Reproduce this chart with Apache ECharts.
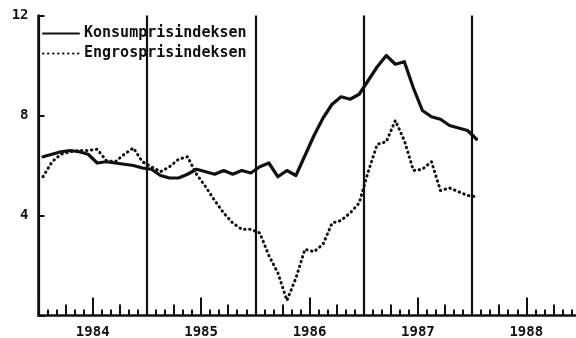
<!DOCTYPE html>
<html>
<head>
<meta charset="utf-8">
<script src="https://cdn.jsdelivr.net/npm/echarts@6/dist/echarts.min.js"></script>
<style>
  html, body { margin: 0; padding: 0; background: #fff; }
  #chart { width: 576px; height: 338px; }
</style>
</head>
<body>
<div id="chart"></div>
<script>
// Monthly year-over-year change (%), January 1984 to January 1988
const years = ['1984', '1985', '1986', '1987', '1988'];
const yTicks = [4, 8, 12];
const kpi = [
  6.35, 6.45, 6.55, 6.6, 6.55, 6.45, 6.1, 6.15, 6.1, 6.05, 6.0, 5.9,
  5.85, 5.6, 5.5, 5.5, 5.65, 5.85, 5.75, 5.65, 5.8, 5.65, 5.8, 5.7,
  5.95, 6.1, 5.55, 5.8, 5.6, 6.4, 7.2, 7.9, 8.45, 8.75, 8.65, 8.85,
  9.4, 9.95, 10.4, 10.05, 10.15, 9.1, 8.2, 7.95, 7.85, 7.6, 7.5, 7.4,
  7.05
];
const engros = [
  5.55, 6.15, 6.45, 6.55, 6.6, 6.6, 6.65, 6.2, 6.15, 6.45, 6.7, 6.15,
  5.95, 5.75, 5.95, 6.25, 6.35, 5.65, 5.15, 4.6, 4.1, 3.7, 3.45, 3.45,
  3.3, 2.4, 1.7, 0.6, 1.5, 2.65, 2.55, 2.85, 3.7, 3.8, 4.1, 4.5,
  5.75, 6.85, 6.95, 7.8, 7.0, 5.8, 5.85, 6.15, 5.0, 5.1, 4.95, 4.8,
  4.75
];

const FONT = 'DejaVu Sans Mono';
const INK = '#111';

// each monthly value sits at the middle of its month on a 0..60 month scale
const toPoints = arr => arr.map((v, i) => [i + 0.5, v]);

// tick-only axes sharing the month scale (quarter and half-year marks)
function tickAxis(interval, length, extra) {
  return Object.assign({
    type: 'value', min: 0, max: 60, interval: interval,
    position: 'bottom', offset: 0,
    axisLine: { show: false },
    axisTick: { show: true, inside: true, length: length, lineStyle: { color: INK, width: 2 } },
    axisLabel: { show: false },
    splitLine: { show: false }
  }, extra || {});
}

const chart = echarts.init(document.getElementById('chart'), null, { renderer: 'canvas' });
chart.setOption({
  backgroundColor: '#fff',
  animation: false,
  // the 1988 panel runs slightly past the right edge of the page
  grid: {
    left: 38.5, width: 542, top: 15.5, bottom: 22.5,
    containLabel: false, outerBoundsMode: 'none'
  },
  legend: {
    orient: 'vertical',
    left: 37, top: 21,
    itemWidth: 36, itemHeight: 12, itemGap: 5,
    itemStyle: { opacity: 0 },
    textStyle: { fontFamily: FONT, fontWeight: 'bold', fontSize: 15, color: INK },
    data: ['Konsumprisindeksen', 'Engrosprisindeksen']
  },
  xAxis: [
    {
      type: 'value', min: 0, max: 60, interval: 1,
      position: 'bottom', offset: 0,
      axisLine: { show: true, lineStyle: { color: INK, width: 2.5 } },
      axisTick: { show: true, inside: true, length: 6, lineStyle: { color: INK, width: 2 } },
      axisLabel: {
        show: true, margin: 10,
        fontFamily: FONT, fontWeight: 'bold', fontSize: 14, color: INK,
        formatter: v => (v % 12 === 6 ? years[(v - 6) / 12] : '')
      },
      splitLine: { show: false }
    },
    tickAxis(3, 11),
    tickAxis(6, 18),
    tickAxis(12, 0, {
      axisTick: { show: false },
      splitLine: { show: true, lineStyle: { color: INK, width: 2.2 } }
    })
  ],
  yAxis: {
    type: 'value', min: 0, max: 12, interval: 4,
    axisLine: { show: true, lineStyle: { color: INK, width: 2.5 } },
    axisTick: { show: true, inside: true, length: 6, lineStyle: { color: INK, width: 2 } },
    axisLabel: {
      margin: 10,
      fontFamily: FONT, fontWeight: 'bold', fontSize: 14, color: INK,
      formatter: v => (yTicks.indexOf(v) >= 0 ? String(v) : '')
    },
    splitLine: { show: false }
  },
  series: [
    {
      name: 'Konsumprisindeksen', type: 'line',
      xAxisIndex: 0, yAxisIndex: 0,
      data: toPoints(kpi),
      symbol: 'none', smooth: false,
      lineStyle: { color: INK, width: 3.2, join: 'round', cap: 'round' },
      itemStyle: { color: INK },
      z: 3
    },
    {
      name: 'Engrosprisindeksen', type: 'line',
      xAxisIndex: 0, yAxisIndex: 0,
      data: toPoints(engros),
      symbol: 'none', smooth: false,
      lineStyle: { color: INK, width: 3, type: [0.5, 4.5], cap: 'round', join: 'round' },
      itemStyle: { color: INK },
      z: 2
    }
  ]
});
</script>
</body>
</html>
